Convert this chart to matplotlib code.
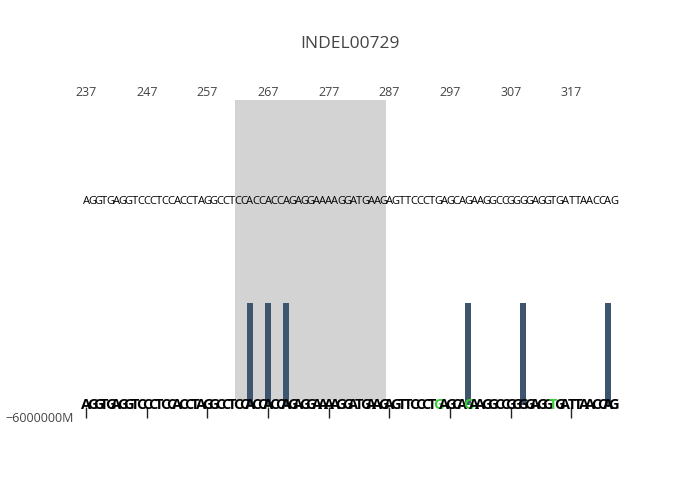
import matplotlib
matplotlib.use("Agg")
import matplotlib.pyplot as plt
import matplotlib.patches as patches

# data
title = "INDEL00729"
start_pos = 237
sequence = "AGGTGAGGTCCCTCCACCTAGGCCTCCACCACCAGAGGAAAAGGATGAAGAGTTCCCTGAGCAGAAGGCCGGGGAGGTGATTAACCAG"
region = [262, 286]            # shaded indel window
bar_pos = [264, 267, 270, 300, 309, 323]
bar_val = [1, 1, 1, 1, 1, 1]
green_pos = [295, 300, 314]    # mismatching letters in the read row
tick_vals = [237, 247, 257, 267, 277, 287, 297, 307, 317]
ylabel_text = "\u22126000000M"

plt.rcParams['font.family'] = ['Open Sans', 'DejaVu Sans']

fig = plt.figure(figsize=(7, 5), dpi=100)
ax = fig.add_axes([80 / 700, 93 / 500, 540 / 700, 307 / 500])

positions = [start_pos + i for i in range(len(sequence))]
ax.set_xlim(start_pos - 1, start_pos + len(sequence))
ax.set_ylim(-0.02, 3.0)

# shaded region
rect = patches.Rectangle((region[0] - 0.5, 0.05), region[1] - region[0] + 1, 2.95,
                         facecolor='#d3d3d3', edgecolor='none', zorder=0)
ax.add_patch(rect)

# bars
ax.bar(bar_pos, bar_val, width=0.95, color='#3e5570', zorder=2)

# reference sequence row
for p, ch in zip(positions, sequence):
    ax.text(p, 2.0, ch, ha='center', va='center', fontsize=8, color='black', zorder=3)

# read row (letters overlap at this size)
for p, ch in zip(positions, sequence):
    col = '#3ccf3c' if p in green_pos else 'black'
    ax.text(p, 0.0, ch, ha='center', va='center', fontsize=10.5, fontweight='bold',
            color=col, zorder=4)

ax.set_xticks(tick_vals)
ax.set_xticklabels([str(t) for t in tick_vals])
ax.tick_params(axis='x', bottom=True, top=False, labelbottom=False, labeltop=True,
               length=8, width=1, color='#222222', labelcolor='#444444',
               labelsize=9, pad=-7)
ax.set_yticks([])
for s in ax.spines.values():
    s.set_visible(False)

fig.text(5 / 700, 1 - 418 / 500, ylabel_text, ha='left', va='center',
         fontsize=9, color='#444444')
fig.text(350 / 700, 1 - 44 / 500, title, ha='center', va='center',
         fontsize=12.5, color='#444444')

fig.savefig("out.png", dpi=100)
